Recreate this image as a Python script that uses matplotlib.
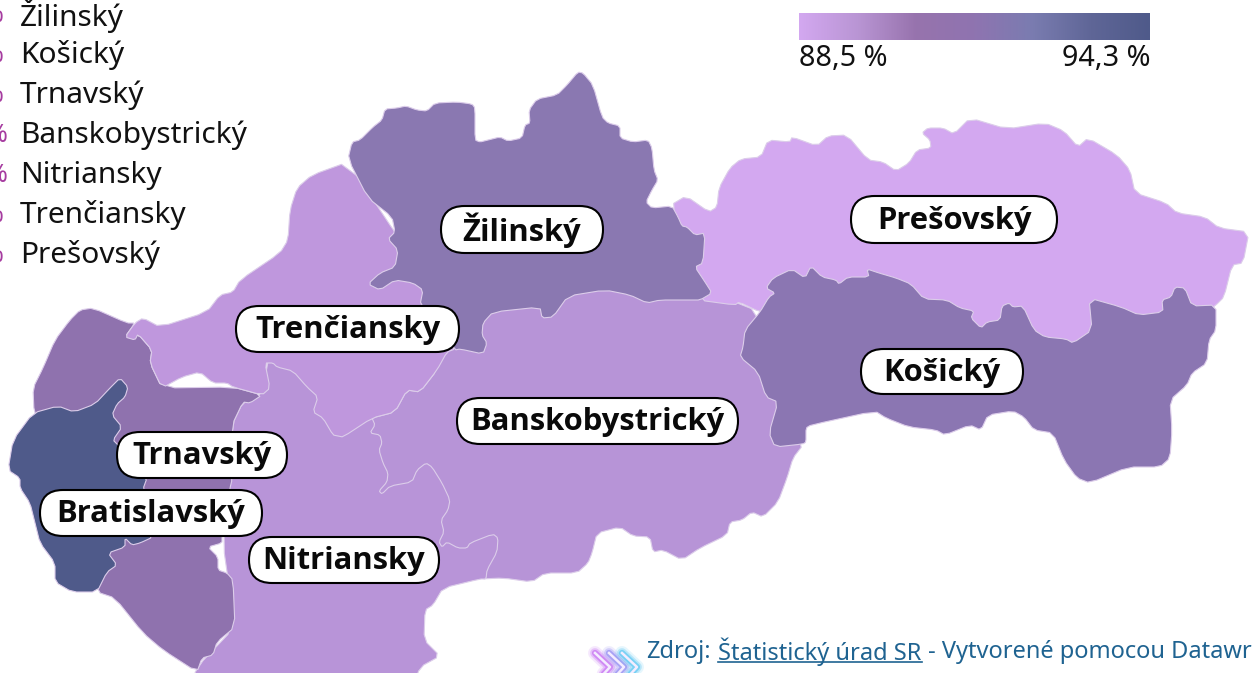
import matplotlib
matplotlib.use("Agg")
import matplotlib.pyplot as plt
import numpy as np
from matplotlib.colors import LinearSegmentedColormap
from matplotlib.patches import FancyBboxPatch, Polygon

# === DATOS ===
legend_names = ["Žilinský", "Košický", "Trnavský", "Banskobystrický", "Nitriansky", "Trenčiansky", "Prešovský"]
legend_y = [14, 54, 94, 134, 174, 214, 254]
legend_pct_x = [4, 4, 4, 8, 8, 4, 4]

scale_min = "88,5 %"
scale_max = "94,3 %"
scale_stops = ["#d3a8f0", "#b995d4", "#9773ad", "#8f74b0", "#7a7cb0", "#5f6697", "#4f5a8a"]

# obrysy krajov (pixely referencie)
banskobystricky = [(372, 418), (395, 412), (407, 390), (420, 392), (437, 370), (440, 340), (470, 285),
                   (690, 285), (712, 293), (760, 312), (780, 400), (803, 445), (793, 458), (787, 478), (778, 502), (763, 517),
                   (752, 512), (742, 520), (730, 522), (727, 535), (700, 548), (682, 560), (663, 550), (653, 552),
                   (650, 537), (633, 536), (620, 527), (597, 533), (592, 553), (588, 563), (577, 573), (545, 573),
                   (532, 582), (503, 578), (480, 579), (360, 520), (360, 425)]
nitriansky = [(262, 395), (270, 350), (372, 400), (372, 418), (375, 425), (370, 433), (380, 435), (382, 443), (379, 450), (383, 463),
              (388, 473), (387, 482), (379, 491), (382, 494), (390, 486), (412, 482), (417, 470), (426, 463),
              (432, 467), (442, 483), (450, 500), (448, 510), (441, 520), (444, 532), (439, 542), (442, 547),
              (447, 542), (458, 548), (467, 548), (470, 543), (493, 534), (498, 538), (497, 552), (487, 570),
              (486, 579), (480, 579), (443, 588), (433, 605), (425, 610), (424, 640), (440, 656), (420, 667),
              (412, 690), (192, 690), (196, 668), (235, 627), (222, 537), (232, 425), (243, 402)]
trnavsky = [(93, 308), (80, 310), (70, 320), (55, 340), (43, 368), (33, 388), (34, 412), (60, 500), (97, 592),
            (115, 598), (143, 633), (163, 650), (197, 672), (202, 658), (213, 655), (217, 642), (235, 627),
            (233, 580), (227, 573), (218, 570), (218, 557), (208, 547), (222, 543), (222, 537), (230, 488),
            (232, 480), (232, 425), (243, 402), (250, 403), (262, 395), (233, 387), (162, 388), (150, 363),
            (152, 350), (138, 334), (125, 337), (135, 323), (127, 323)]
bratislavsky = [(120, 378), (128, 387), (125, 397), (117, 404), (112, 415), (122, 427), (113, 440), (118, 445),
                (147, 478), (143, 489), (153, 537), (140, 543), (132, 545), (125, 538), (125, 547), (108, 553),
                (117, 565), (107, 572), (97, 592), (72, 592), (55, 582), (55, 563), (40, 543), (35, 523),
                (30, 503), (20, 488), (20, 478), (8, 470), (13, 440), (33, 413), (58, 406), (74, 412),
                (95, 404), (110, 388)]
trenciansky = [(348, 162), (312, 175), (297, 188), (290, 210), (288, 240), (280, 253), (240, 280), (233, 292),
               (220, 295), (207, 312), (160, 327), (143, 318), (135, 323), (125, 337), (135, 340), (138, 334),
               (152, 350), (150, 363), (162, 388), (182, 377), (200, 372), (213, 383), (227, 383), (233, 387),
               (262, 395), (270, 388), (265, 363), (273, 363), (277, 367), (293, 371), (307, 387), (318, 397),
               (313, 412), (323, 418), (333, 435), (338, 436), (343, 437), (372, 418), (395, 412), (407, 390),
               (420, 392), (437, 370), (447, 352), (455, 349), (440, 290), (400, 240)]
zilinsky = [(348, 159), (352, 142), (360, 140), (373, 127), (382, 120), (385, 109), (397, 108), (406, 106),
            (417, 110), (427, 111), (435, 103), (457, 102), (472, 104), (475, 108), (475, 140), (480, 142),
            (488, 140), (500, 137), (508, 141), (522, 138), (525, 125), (530, 123), (529, 110), (537, 99),
            (557, 95), (567, 85), (578, 72), (583, 73), (593, 85), (602, 117), (608, 123), (620, 126),
            (620, 138), (633, 142), (648, 140), (652, 148), (654, 170), (658, 180), (652, 190), (646, 202),
            (652, 208), (672, 206), (678, 217), (682, 226), (687, 227), (695, 235), (705, 233), (703, 263),
            (695, 267), (705, 282), (712, 293), (700, 300), (690, 300), (660, 300), (647, 303), (630, 295),
            (605, 290), (568, 296), (553, 317), (542, 318), (540, 307), (493, 312), (483, 323), (482, 335),
            (487, 343), (483, 354), (460, 349), (455, 350), (420, 305), (423, 290), (413, 283), (395, 280),
            (380, 290), (368, 284), (380, 273), (395, 267), (398, 250), (388, 239), (395, 232), (392, 217),
            (368, 198)]
presovsky = [(671, 205), (686, 196), (709, 212), (717, 207), (719, 188), (730, 168), (741, 159), (761, 157),
             (768, 140), (790, 142), (792, 137), (817, 146), (828, 136), (847, 135), (868, 160), (883, 162),
             (896, 171), (909, 163), (917, 150), (931, 148), (930, 140), (922, 133), (928, 128), (943, 128),
             (954, 134), (970, 118), (1007, 129), (1045, 123), (1064, 131), (1078, 147), (1088, 138),
             (1117, 155), (1130, 170), (1135, 193), (1166, 203), (1177, 213), (1205, 217), (1219, 228),
             (1249, 232), (1243, 263), (1232, 265), (1224, 297), (1216, 305), (1150, 360), (1000, 360),
             (850, 330), (760, 312), (739, 302), (735, 305), (698, 300), (690, 250)]
kosicky = [(760, 312), (769, 297), (775, 293), (766, 288), (773, 278), (792, 269), (805, 278), (811, 266),
           (822, 277), (836, 280), (839, 284), (848, 277), (869, 277), (867, 269), (879, 273), (896, 278),
           (911, 284), (924, 299), (947, 300), (960, 308), (974, 311), (971, 318), (981, 328), (987, 322),
           (1000, 320), (1002, 306), (1009, 303), (1013, 307), (1023, 306), (1034, 330), (1045, 337),
           (1066, 339), (1073, 343), (1092, 330), (1089, 298), (1121, 307), (1139, 315), (1163, 312),
           (1162, 300), (1171, 297), (1175, 287), (1185, 288), (1192, 306), (1216, 305), (1216, 330),
           (1209, 340), (1207, 363), (1192, 373), (1187, 385), (1170, 400), (1172, 430), (1170, 458),
           (1160, 467), (1128, 467), (1090, 483), (1077, 478), (1064, 460), (1053, 433), (1034, 430),
           (1024, 417), (1013, 411), (988, 415), (981, 430), (970, 425), (945, 435), (936, 430), (909, 427),
           (886, 418), (875, 411), (811, 425), (806, 428), (806, 442), (803, 444), (775, 447), (769, 433),
           (778, 402), (766, 397), (758, 372), (740, 357), (743, 347), (745, 330)]

regions = [banskobystricky, nitriansky, trnavsky, bratislavsky, trenciansky, presovsky, zilinsky, kosicky]
region_colors = ["#b794d7", "#b894d8", "#8f72ae", "#4f5a8a", "#bf97dd", "#d3a8f0", "#8a78b1", "#8b76b2"]

# stitky: nazov, x0, x1, y0, y1
label_names = ["Žilinský", "Prešovský", "Košický", "Banskobystrický", "Trenčiansky", "Trnavský", "Bratislavský", "Nitriansky"]
label_x0 = [441, 851, 861, 457, 236, 117, 40, 249]
label_x1 = [603, 1057, 1023, 738, 459, 287, 262, 439]
label_y0 = [206, 196, 349, 398, 306, 432, 490, 537]
label_y1 = [253, 243, 394, 444, 352, 478, 536, 583]

chevron_shape = [(595, 653), (610, 667), (600, 678)]
chevron_shift = [0, 14, 27]
chevron_colors = ["#c266f2", "#8f86f2", "#52c4f2"]


def rounded(pts, cut=0.18):
    # redondea esquinas del contorno
    pts = np.array(pts, dtype=float)
    nxt = np.roll(pts, -1, axis=0)
    a = pts + cut * (nxt - pts)
    b = pts + (1 - cut) * (nxt - pts)
    return np.column_stack([a, b]).reshape(-1, 2)


# === GRAFICO ===
plt.rcParams['font.family'] = ['Noto Sans', 'DejaVu Sans']
fig = plt.figure(figsize=(12.52, 6.73), dpi=100)
ax = fig.add_axes([0, 0, 1, 1])
ax.set_xlim(0, 1252)
ax.set_ylim(673, 0)
ax.axis('off')

for pts, col in zip(regions, region_colors):
    ax.add_patch(Polygon(rounded(pts), closed=True, facecolor=col, edgecolor="#dccdea", linewidth=0.8, joinstyle='round'))

for name, y, px in zip(legend_names, legend_y, legend_pct_x):
    ax.text(20, y + 1.5, name, fontsize=21.5, color="#111111", ha='left', va='center')
    ax.text(px, y + 2, "%", fontsize=18, color="#a63ca0", ha='right', va='center')

# escala de color
cmap = LinearSegmentedColormap.from_list("escala", scale_stops)
ax.imshow(np.linspace(0, 1, 256).reshape(1, -1), cmap=cmap, aspect='auto', extent=(799, 1150, 40, 13), zorder=3)
ax.set_xlim(0, 1252)
ax.set_ylim(673, 0)
ax.text(799, 58, scale_min, fontsize=20.7, color="#111111", ha='left', va='center')
ax.text(1151, 58, scale_max, fontsize=20.7, color="#111111", ha='right', va='center')

for name, x0, x1, y0, y1 in zip(label_names, label_x0, label_x1, label_y0, label_y1):
    r = (y1 - y0) / 2
    ax.add_patch(FancyBboxPatch((x0, y0), x1 - x0, y1 - y0, boxstyle=f"round,pad=0,rounding_size={r}",
                                facecolor="white", edgecolor="black", linewidth=1.5, zorder=4))
    ax.text((x0 + x1) / 2, (y0 + y1) / 2 + 1, name, fontsize=22.3, fontweight='bold', color="#0a0a0a",
            family='Open Sans', ha='center', va='center', zorder=5)

# fuente
src_col = "#1f6391"
ax.text(646, 652, "Zdroj:", fontsize=17, color=src_col, ha='left', va='center')
ax.text(718, 652, "Štatistický úrad SR", fontsize=17, color=src_col, ha='left', va='center')
ax.plot([718, 922], [662, 662], color=src_col, lw=1.2)
ax.text(928, 652, "- Vytvorené pomocou Datawrapper", fontsize=17, color=src_col, ha='left', va='center')

xs = np.array([p[0] for p in chevron_shape])
ys = np.array([p[1] for p in chevron_shape])
for dx, col in zip(chevron_shift, chevron_colors):
    for lw, alpha in [(10, 0.15), (7, 0.3), (4.5, 0.6)]:
        ax.plot(xs + dx, ys, color=col, lw=lw, alpha=alpha, solid_capstyle='round')
    ax.plot(xs + dx, ys, color="#f4ecff", lw=1.8)

fig.savefig("out.png", dpi=100)
